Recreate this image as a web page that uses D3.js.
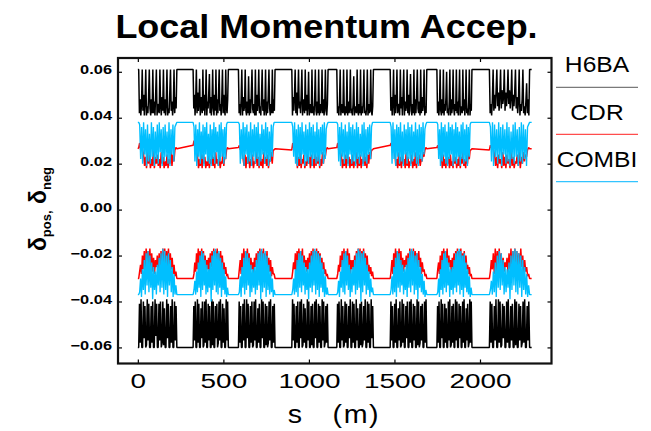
<!DOCTYPE html>
<html>
<head>
<meta charset="utf-8">
<script src="https://cdn.jsdelivr.net/npm/d3@7"></script>
<style>
  body { margin: 0; background: #fff; }
  svg { display: block; }
  text { font-family: "Liberation Sans", Arial, Helvetica, sans-serif; fill: #000; }
</style>
</head>
<body>
<svg id="chart" width="651" height="431"></svg>
<script>
// ---- lattice layout: ring length and the eight arcs (s in metres) ----
const ringStart = 0;
const ringEnd = 2302;
const arcStart = [5, 323, 588, 900, 1163, 1475, 1748, 2055];
const arcEnd   = [228, 529, 802, 1112, 1377, 1689, 1953, 2290];

// ---- axis ticks ----
const xTicks = [0, 500, 1000, 1500, 2000];
const yTicks = [-0.06, -0.04, -0.02, 0.00, 0.02, 0.04, 0.06];

// ---- series ----
const seriesNames = ["H6BA", "CDR", "COMBI"];

// acceptance in the straight sections (units of 1e-3)
const straightPos = [61, 26.5, 38];
const straightNeg = [-60, -30, -37];

// local momentum acceptance across each arc, sampled evenly along the arc (units of 1e-3)
const h6baPos = [
  [61,42,48,41,46, 61,43,50,41,47, 61,41,45,42,49, 61,44,41,48,42, 61,42,47,41,50, 61,41,46,43,42, 61,45,41,49,43, 61,42,48,41,46, 61,41,44,42,51, 61,43,47,41,45, 61,42,49,44,61],
  [61,44,50,41,48, 61,42,51,43,47, 57,41,49,45,42, 61,43,50,41,48, 61,41,47,44,51, 59,42,49,41,46, 61,44,41,50,43, 61,41,48,42,51, 61,43,46,41,49, 61,42,50,44,41, 61,45,42,48,61],
  [61,42,46,41,48, 61,41,49,43,45, 61,43,41,47,42, 58,41,48,42,50, 61,44,42,46,41, 61,41,50,43,47, 61,42,45,41,49, 61,43,48,41,44, 61,41,47,42,50, 61,44,41,46,42, 61,42,48,43,61],
  [61,41,49,43,50, 61,42,51,41,48, 61,44,47,42,50, 61,41,48,45,42, 61,43,50,41,46, 60,41,46,43,42, 61,42,45,41,48, 61,43,41,47,42, 61,41,46,42,44, 61,42,48,41,45, 61,43,41,46,61],
  [61,42,45,41,47, 61,41,46,43,42, 61,43,41,45,42, 61,41,47,42,44, 61,42,44,41,46, 58,41,45,43,42, 61,43,41,46,42, 61,41,45,42,47, 61,42,43,41,45, 61,41,46,42,43, 61,43,41,45,61],
  [61,43,49,41,47, 61,41,50,42,48, 61,42,46,44,41, 61,44,49,41,50, 61,41,47,43,45, 61,42,50,41,48, 59,43,41,46,42, 61,41,48,42,50, 61,44,42,47,41, 61,42,49,43,46, 61,41,45,42,61],
  [61,42,47,41,45, 61,43,41,48,42, 61,41,46,43,49, 60,42,44,41,47, 61,41,48,42,45, 61,44,41,46,43, 61,42,47,41,49, 61,41,45,43,42, 61,43,48,41,46, 61,42,44,41,47, 61,41,46,43,61],
  [61,42,46,41,48, 61,43,50,44,52, 61,45,51,43,50, 61,44,52,46,49, 61,43,51,45,50, 61,46,52,44,49, 61,43,50,45,51, 61,44,49,42,47, 61,41,46,43,48, 61,42,45,41,47, 55,42,48,41,61]
];
const h6baNeg = [
  [-60,-41,-58,-39,-60, -60,-40,-56,-42,-60, -59,-39,-57,-41,-60, -60,-42,-58,-40,-60, -60,-39,-55,-41,-60, -60,-41,-57,-40,-60, -58,-40,-59,-43,-60, -60,-39,-56,-41,-60, -60,-42,-58,-39,-60, -60,-40,-57,-42,-60],
  [-60,-42,-57,-40,-60, -60,-39,-58,-41,-60, -60,-43,-56,-40,-60, -59,-40,-58,-39,-60, -60,-41,-57,-42,-60, -60,-39,-59,-40,-60, -60,-42,-56,-41,-60, -58,-40,-57,-39,-60, -60,-41,-58,-43,-60, -60,-39,-57,-40,-60],
  [-60,-40,-58,-42,-60, -60,-41,-57,-39,-60, -60,-39,-56,-41,-60, -60,-42,-58,-40,-60, -59,-40,-57,-39,-60, -60,-43,-58,-41,-60, -60,-39,-56,-40,-60, -60,-41,-59,-42,-60, -58,-40,-57,-39,-60, -60,-42,-58,-41,-60],
  [-60,-39,-57,-41,-60, -60,-42,-58,-40,-60, -60,-40,-56,-39,-60, -59,-41,-58,-43,-60, -60,-39,-57,-40,-60, -60,-42,-59,-41,-60, -60,-40,-56,-39,-60, -60,-41,-58,-42,-60, -60,-39,-57,-40,-60, -58,-42,-58,-41,-60],
  [-60,-41,-58,-40,-60, -60,-39,-57,-42,-60, -59,-40,-58,-41,-60, -60,-42,-56,-39,-60, -60,-40,-58,-41,-60, -60,-39,-57,-43,-60, -60,-41,-59,-40,-60, -58,-42,-57,-39,-60, -60,-40,-58,-41,-60, -60,-39,-56,-42,-60],
  [-60,-40,-57,-42,-60, -60,-41,-58,-39,-60, -60,-43,-57,-40,-60, -59,-39,-58,-41,-60, -60,-42,-56,-40,-60, -60,-40,-58,-39,-60, -60,-41,-57,-42,-60, -60,-39,-59,-40,-60, -58,-42,-57,-41,-60, -60,-40,-58,-39,-60],
  [-60,-42,-58,-40,-60, -60,-39,-56,-41,-60, -60,-41,-58,-43,-60, -60,-40,-57,-39,-60, -59,-42,-58,-41,-60, -60,-39,-57,-40,-60, -60,-41,-56,-42,-60, -60,-40,-58,-39,-60, -60,-43,-57,-41,-60, -58,-39,-58,-40,-60],
  [-60,-40,-58,-41,-60, -60,-42,-57,-39,-60, -60,-39,-58,-40,-60, -59,-41,-56,-42,-60, -60,-40,-58,-39,-60, -60,-42,-57,-41,-60, -60,-39,-59,-40,-60, -60,-41,-57,-42,-60, -58,-40,-58,-39,-60, -60,-42,-57,-40,-60]
];
const cdrPos = [
  [27,29,26,28,26,24,19,23,18,25,20,24,18,22,19,26,18,23,20,24,19,22,18,25,20,23,18,21,19,24,18,22,20,26,19,24,21,26,27,26.5],
  [28,30,27,29,26,23,18,22,19,25,18,24,20,23,18,21,19,26,18,22,20,24,19,23,18,25,20,22,19,24,18,21,20,25,19,23,22,26,27,26.5],
  [27,28,26,29,25,22,19,24,18,23,20,25,18,22,19,24,18,21,20,26,19,23,18,24,19,22,18,25,20,23,19,24,18,22,21,25,20,26,26,26.5],
  [26,29,27,28,26,24,18,23,19,25,18,22,20,24,18,21,19,25,20,23,18,24,19,22,18,26,19,23,20,24,18,22,19,25,20,24,23,26,27,26.5],
  [27,29,26,28,25,23,18,22,19,24,18,25,20,23,18,22,19,24,18,21,20,25,18,23,19,24,18,22,20,26,19,23,18,24,20,25,22,26,26,26.5],
  [28,29,26,28,26,24,19,22,18,25,19,23,18,24,20,22,18,25,19,23,18,21,20,24,18,22,19,25,18,23,20,24,19,22,21,25,23,26,27,26.5],
  [27,28,26,29,25,23,18,24,19,22,18,25,20,23,18,24,19,21,18,25,20,23,18,22,19,24,18,23,20,25,19,22,18,24,20,25,22,26,26,26.5],
  [26,28,27,29,26,24,19,23,18,24,20,22,18,25,19,23,18,24,20,22,18,25,19,23,18,21,20,24,19,26,18,23,20,25,21,24,23,26,27,26.5]
];
const cdrNeg = [
  [-30,-27,-24,-28,-20,-26,-18,-27,-17,-25,-18,-28,-17,-26,-19,-27,-21,-28,-22,-25,-20,-27,-19,-26,-18,-28,-17,-25,-17,-27,-18,-26,-17,-28,-19,-26,-21,-28,-24,-29,-27,-30],
  [-30,-28,-23,-27,-19,-26,-17,-28,-18,-25,-17,-27,-18,-26,-20,-28,-22,-26,-21,-27,-19,-25,-18,-28,-17,-26,-18,-27,-17,-25,-19,-28,-18,-26,-20,-27,-23,-28,-25,-29,-28,-30],
  [-30,-26,-22,-28,-19,-27,-17,-26,-18,-28,-17,-25,-19,-27,-21,-26,-23,-28,-21,-25,-19,-27,-18,-26,-17,-28,-18,-25,-17,-27,-19,-26,-18,-28,-21,-27,-22,-29,-25,-28,-28,-30],
  [-30,-27,-23,-26,-19,-28,-18,-25,-17,-27,-18,-26,-17,-28,-20,-25,-22,-27,-21,-26,-19,-28,-18,-25,-17,-27,-18,-26,-17,-28,-18,-25,-19,-27,-21,-26,-23,-28,-26,-29,-28,-30],
  [-30,-28,-24,-27,-20,-25,-18,-28,-17,-26,-18,-27,-17,-25,-19,-28,-22,-26,-22,-27,-20,-25,-18,-28,-17,-26,-17,-27,-18,-25,-17,-28,-19,-26,-20,-27,-24,-28,-25,-29,-27,-30],
  [-30,-27,-22,-28,-19,-26,-17,-27,-18,-25,-17,-28,-18,-26,-21,-27,-22,-25,-20,-28,-19,-26,-17,-27,-18,-25,-17,-28,-18,-26,-19,-27,-18,-25,-21,-28,-23,-27,-26,-29,-28,-30],
  [-30,-26,-23,-28,-20,-27,-18,-25,-17,-28,-18,-26,-17,-27,-20,-25,-22,-28,-21,-26,-19,-27,-18,-25,-17,-28,-18,-26,-17,-27,-19,-25,-18,-28,-20,-26,-24,-28,-25,-29,-28,-30],
  [-30,-27,-22,-26,-19,-28,-17,-27,-18,-25,-17,-26,-19,-28,-21,-27,-23,-25,-21,-28,-19,-26,-17,-27,-18,-25,-17,-28,-18,-26,-19,-27,-17,-25,-20,-28,-22,-27,-25,-29,-28,-30]
];
const combiPos = [
  [38,37,22,36,20,38,24,35,19,37,21,33,20,38,23,36,19,34,22,37,20,38,25,35,19,36,21,37,23,34,20,38,19,35,24,37,21,36,37,38],
  [38,36,21,37,19,35,23,38,20,34,22,37,19,36,24,38,21,33,20,37,19,35,22,38,20,36,25,34,19,37,21,38,23,35,20,36,22,37,38,38],
  [38,37,20,35,22,38,19,36,24,37,20,34,21,38,19,35,23,37,20,36,22,38,19,33,21,37,24,35,20,38,22,36,19,34,21,37,23,36,38,38],
  [38,36,23,38,20,35,19,37,22,36,20,38,24,34,19,37,21,35,20,38,23,36,19,37,22,34,20,38,21,35,19,36,24,37,20,38,22,35,37,38],
  [38,37,21,36,19,38,23,35,20,37,22,34,19,38,24,36,20,37,21,35,19,38,22,36,20,33,23,37,19,38,21,35,20,36,24,37,22,36,38,38],
  [38,36,20,38,22,35,19,37,23,36,20,38,21,34,19,37,24,35,20,38,22,36,19,37,21,34,23,38,20,35,19,37,22,36,21,38,24,35,37,38],
  [38,37,22,35,19,38,21,36,23,37,20,34,19,38,22,36,24,37,19,35,21,38,20,36,23,34,19,37,22,38,20,35,21,37,19,36,23,37,38,38],
  [38,36,21,38,19,37,23,35,20,38,22,36,19,37,24,35,20,38,21,36,19,34,22,37,20,38,23,35,19,36,21,38,20,37,22,35,19,36,37,38]
];
const combiNeg = [
  [-37,-36,-30,-38,-26,-35,-22,-37,-19,-33,-18,-36,-20,-34,-23,-39,-25,-35,-27,-37,-24,-33,-21,-36,-19,-34,-17,-37,-18,-35,-20,-38,-19,-33,-22,-36,-25,-38,-28,-37,-33,-37],
  [-37,-35,-31,-37,-27,-36,-23,-34,-20,-38,-18,-35,-19,-33,-22,-37,-24,-36,-26,-34,-23,-40,-20,-35,-18,-33,-17,-36,-19,-37,-18,-34,-21,-38,-23,-35,-26,-37,-29,-38,-34,-37],
  [-37,-36,-29,-38,-25,-34,-21,-37,-18,-35,-19,-33,-21,-38,-24,-36,-26,-34,-25,-37,-22,-35,-19,-33,-18,-39,-17,-36,-19,-34,-18,-38,-20,-35,-24,-37,-27,-36,-30,-38,-35,-37],
  [-37,-35,-30,-37,-26,-36,-22,-38,-19,-34,-18,-36,-20,-33,-23,-37,-25,-35,-26,-39,-23,-34,-20,-36,-18,-33,-17,-37,-18,-35,-19,-38,-20,-34,-23,-36,-26,-38,-29,-37,-34,-37],
  [-37,-36,-31,-38,-27,-34,-22,-36,-19,-37,-18,-33,-20,-35,-24,-38,-26,-36,-25,-33,-22,-37,-19,-35,-17,-34,-18,-40,-19,-36,-18,-33,-21,-37,-24,-35,-27,-38,-30,-36,-34,-37],
  [-37,-35,-29,-37,-25,-36,-21,-38,-18,-34,-19,-36,-22,-33,-24,-37,-26,-35,-24,-38,-21,-34,-18,-36,-17,-33,-18,-37,-20,-35,-19,-39,-22,-34,-25,-36,-28,-37,-31,-38,-35,-37],
  [-37,-36,-30,-38,-26,-35,-22,-37,-19,-34,-18,-36,-21,-33,-23,-38,-26,-35,-25,-37,-22,-34,-19,-36,-18,-33,-17,-37,-18,-35,-20,-38,-19,-34,-23,-36,-26,-37,-29,-38,-34,-37],
  [-37,-35,-31,-37,-27,-36,-23,-38,-20,-34,-18,-35,-19,-33,-22,-37,-25,-36,-26,-34,-23,-39,-20,-35,-18,-33,-17,-36,-18,-37,-19,-34,-20,-38,-22,-35,-25,-37,-28,-38,-33,-37]
];

// ---- drawing ----
const svg = d3.select("#chart");
const frame = { left: 118, right: 551.5, top: 58, bottom: 363.5 };

const x = d3.scaleLinear().domain([-116, 2418]).range([frame.left, frame.right]);
const y = d3.scaleLinear().domain([-0.0670, 0.0660]).range([frame.bottom, frame.top]);

// title
svg.append("text")
  .attr("transform", "translate(326.5,38) scale(1.09,1)")
  .attr("text-anchor", "middle")
  .attr("font-size", 33).attr("font-weight", "bold")
  .text("Local Momentum Accep.");

svg.append("clipPath").attr("id", "plotClip")
  .append("rect")
  .attr("x", frame.left).attr("y", frame.top)
  .attr("width", frame.right - frame.left).attr("height", frame.bottom - frame.top);

// full trace around the ring: straight level, then each arc's samples
function trace(arcs, level) {
  const pts = [[ringStart, level]];
  arcs.forEach((vals, i) => {
    const a = arcStart[i], b = arcEnd[i], n = vals.length;
    vals.forEach((v, j) => pts.push([a + (b - a) * j / (n - 1), v]));
  });
  pts.push([ringEnd, level]);
  return pts;
}

const line = d3.line().x(d => x(d[0])).y(d => y(d[1] / 1000));

const traces = [
  { data: trace(h6baPos, straightPos[0]), color: "#000000", width: 1.5 },
  { data: trace(h6baNeg, straightNeg[0]), color: "#000000", width: 1.5 },
  { data: trace(cdrPos, straightPos[1]), color: "#ff0000", width: 1.5 },
  { data: trace(cdrNeg, straightNeg[1]), color: "#ff0000", width: 1.5 },
  { data: trace(combiPos, straightPos[2]), color: "#00bfff", width: 1.35 },
  { data: trace(combiNeg, straightNeg[2]), color: "#00bfff", width: 1.35 }
];

const plot = svg.append("g").attr("clip-path", "url(#plotClip)");
plot.selectAll("path.trace")
  .data(traces)
  .join("path")
  .attr("class", "trace")
  .attr("fill", "none")
  .attr("stroke", d => d.color)
  .attr("stroke-width", d => d.width)
  .attr("stroke-linejoin", "bevel")
  .attr("d", d => line(d.data));

// axes: ticks point inward on all four sides
const fmt = d3.format(".2f");
const tickLen = 4;

const gLeft = svg.append("g").attr("transform", `translate(${frame.left},0)`)
  .call(d3.axisLeft(y).tickValues(yTicks).tickSize(-tickLen).tickFormat(fmt));
gLeft.selectAll("text")
  .attr("x", null).attr("dy", null)
  .attr("font-size", 12.6).attr("font-weight", "bold")
  .attr("text-anchor", "end")
  .attr("transform", "translate(-6,1.6) scale(1.3,1)");

const gRight = svg.append("g").attr("transform", `translate(${frame.right},0)`)
  .call(d3.axisRight(y).tickValues(yTicks).tickSize(-tickLen).tickFormat(""));

const gBottom = svg.append("g").attr("transform", `translate(0,${frame.bottom})`)
  .call(d3.axisBottom(x).tickValues(xTicks).tickSize(-tickLen).tickFormat(d3.format("d")));
gBottom.selectAll("text")
  .attr("y", null).attr("dy", null)
  .attr("font-size", 21)
  .attr("text-anchor", "middle")
  .attr("transform", "translate(0,24.5) scale(1.33,1)");

const gTop = svg.append("g").attr("transform", `translate(0,${frame.top})`)
  .call(d3.axisTop(x).tickValues(xTicks).tickSize(-tickLen).tickFormat(""));

[gLeft, gRight, gBottom, gTop].forEach(g => {
  g.select(".domain").remove();
  g.selectAll(".tick line").attr("stroke", "#000").attr("stroke-width", 1.2);
});

// frame
svg.append("rect")
  .attr("x", frame.left).attr("y", frame.top)
  .attr("width", frame.right - frame.left).attr("height", frame.bottom - frame.top)
  .attr("fill", "none").attr("stroke", "#111").attr("stroke-width", 2.2);

// x-axis title
svg.append("text")
  .attr("transform", "translate(334,423) scale(1.1,1)")
  .attr("text-anchor", "middle")
  .attr("font-size", 26)
  .attr("letter-spacing", 1.5)
  .style("white-space", "pre")
  .text("s   (m)");

// y-axis title: δ_pos, δ_neg
const yTitle = svg.append("text")
  .attr("transform", "translate(46,209) rotate(-90)")
  .attr("text-anchor", "middle")
  .attr("font-weight", "bold")
  .attr("font-size", 23)
  .style("white-space", "pre");
yTitle.append("tspan").text("δ");
yTitle.append("tspan").attr("font-size", 13).attr("dy", 5).text("pos,");
yTitle.append("tspan").attr("dy", -5).text(" δ");
yTitle.append("tspan").attr("font-size", 13).attr("dy", 5).text("neg");

// legend, to the right of the frame
const legendColors = ["#7a7a7a", "#ff4d4d", "#33c4ff"];
const legendTextY = [72, 120, 167];
const legendLineY = [87.3, 134.3, 181.7];
const legend = svg.append("g");
seriesNames.forEach((name, i) => {
  legend.append("text")
    .attr("transform", `translate(597,${legendTextY[i]}) scale(1.12,1)`)
    .attr("text-anchor", "middle")
    .attr("font-size", 22)
    .text(name);
  legend.append("line")
    .attr("x1", 556).attr("x2", 638)
    .attr("y1", legendLineY[i]).attr("y2", legendLineY[i])
    .attr("stroke", legendColors[i]).attr("stroke-width", 1.3);
});
</script>
</body>
</html>
